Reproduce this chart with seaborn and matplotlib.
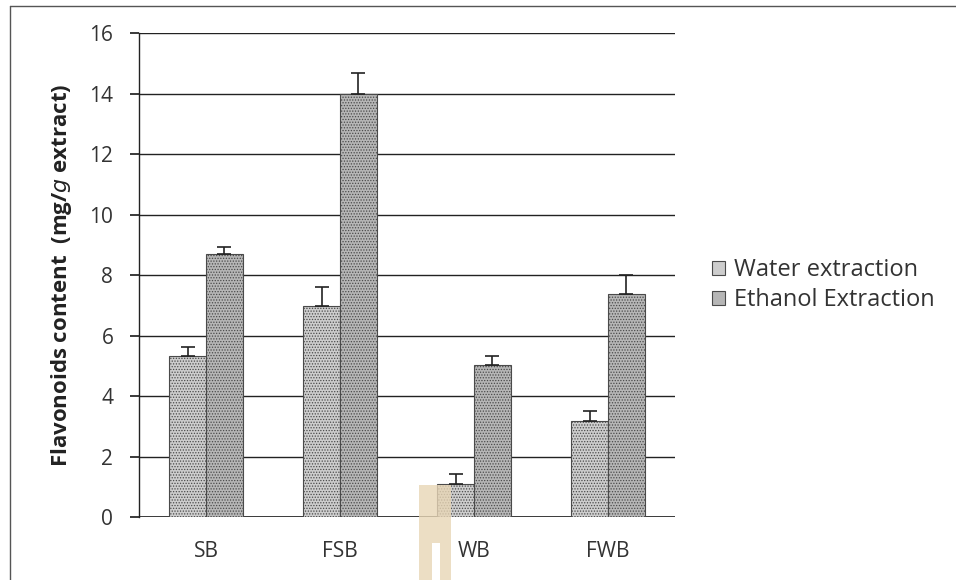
import matplotlib.pyplot as plt
import matplotlib.patches as mpatches
import numpy as np
import pandas as pd
import seaborn as sns

# Data
samples = ["SB", "FSB", "WB", "FWB"]
water = [5.31, 6.97, 1.09, 3.18]
ethanol = [8.71, 13.99, 5.04, 7.38]
water_err = [0.31, 0.63, 0.34, 0.33]
ethanol_err = [0.22, 0.70, 0.27, 0.61]
series = ["Water extraction", "Ethanol Extraction"]

df = pd.DataFrame({
    "sample": samples * 2,
    "value": water + ethanol,
    "err": water_err + ethanol_err,
    "series": [series[0]] * 4 + [series[1]] * 4,
})

sns.set_theme(style="white")
plt.rcParams["font.family"] = ["Open Sans", "DejaVu Sans"]
plt.rcParams["hatch.linewidth"] = 0.6

fig = plt.figure(figsize=(9.56, 5.8), dpi=100)
ax = fig.add_axes([0.1454, 0.1086, 0.5607, 0.8345])

palette = {series[0]: "#cdcdcd", series[1]: "#b6b6b6"}
sns.barplot(data=df, x="sample", y="value", hue="series", order=samples,
            hue_order=series, palette=palette, width=0.55, saturation=1,
            edgecolor="#4a4a4a", linewidth=0.8, errorbar=None, ax=ax, zorder=3)

# stipple texture and upward-only error bars
for container, s in zip(ax.containers, series):
    sub = df[df["series"] == s]
    for bar in container:
        bar.set_hatch("......")
    xs = [b.get_x() + b.get_width() / 2 for b in container]
    ys = [b.get_height() for b in container]
    ax.errorbar(xs, ys, yerr=[np.zeros(len(ys)), sub["err"].values],
                fmt="none", ecolor="#222222", elinewidth=1.2, capsize=5,
                capthick=1.2, zorder=4)

ax.set_ylim(0, 16)
ax.set_yticks(range(0, 17, 2))
ax.set_xlim(-0.5, 3.5)
ax.yaxis.grid(True, color="#222222", linewidth=1.0)
ax.set_axisbelow(True)
for side in ["top", "right", "bottom"]:
    ax.spines[side].set_visible(False)
ax.spines["left"].set_color("#222222")
ax.spines["left"].set_linewidth(1.0)
ax.axhline(0, color="#222222", linewidth=1.2, zorder=2)
ax.tick_params(axis="y", left=True, length=6.5, color="#222222", labelsize=15, pad=12)
ax.tick_params(axis="x", bottom=False, labelsize=15, pad=11)
for lab in ax.get_xticklabels() + ax.get_yticklabels():
    lab.set_color("#333333")

ax.set_xlabel("")
ax.set_ylabel(r"Flavonoids content  (mg/$\it{g}$ extract)", fontsize=16,
              fontweight="bold", color="#222222", labelpad=11)

handles, labels = ax.get_legend_handles_labels()
ax.legend(handles=handles, labels=labels, loc="center left",
          bbox_to_anchor=(1.03, 0.479), frameon=False, fontsize=17,
          handlelength=0.55, handleheight=0.55, handletextpad=0.35,
          labelspacing=0.27, labelcolor="#333333")

# scan artefacts: page border and stripe near WB
fig.add_artist(plt.Line2D([10 / 956, 10 / 956], [0, 1 - 6 / 580],
                          transform=fig.transFigure, color="#555555", lw=1.0))
fig.add_artist(plt.Line2D([10 / 956, 1], [1 - 6 / 580, 1 - 6 / 580],
                          transform=fig.transFigure, color="#555555", lw=1.0))
for x0, w, y0, h in [(419, 32, 37, 58), (419, 13, 0, 37), (440, 11, 0, 37)]:
    fig.add_artist(mpatches.Rectangle((x0 / 956, y0 / 580), w / 956, h / 580,
                                      transform=fig.transFigure, color="#e8d6b6",
                                      alpha=0.8, lw=0, zorder=5))

fig.savefig("out.png", dpi=100)
